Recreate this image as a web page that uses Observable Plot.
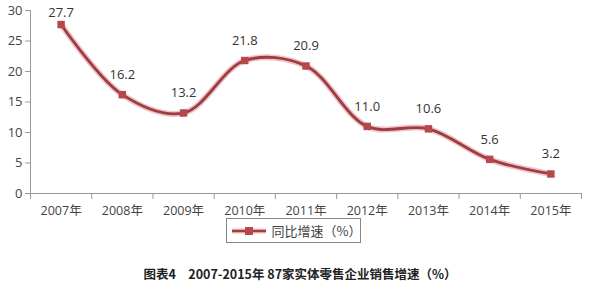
<!DOCTYPE html>
<html><head><meta charset="utf-8">
<script src="https://cdn.jsdelivr.net/npm/d3@7"></script>
<script src="https://cdn.jsdelivr.net/npm/@observablehq/plot@0.6"></script>
<style>
body{margin:0;background:#fff;font-family:"Noto Sans CJK SC","Noto Sans",sans-serif;}
#wrap{position:relative;width:600px;height:292px;overflow:hidden;}
#legend{position:absolute;left:226px;top:218px;width:135px;height:25px;border:1px solid #888;box-sizing:border-box;display:flex;align-items:center;font-size:13px;color:#444;}
#caption{position:absolute;left:0;top:264px;width:600px;text-align:center;font-size:12.5px;font-weight:bold;color:#222;}
</style></head><body>
<div id="wrap"><div id="chart"></div>
<div id="legend"><svg width="38" height="12" style="margin-left:3px;margin-right:4px"><line x1="2" y1="6" x2="36" y2="6" stroke="#f3c7c9" stroke-width="5"/><line x1="2" y1="6" x2="36" y2="6" stroke="#a33c43" stroke-width="2.5"/><rect x="15" y="2" width="8" height="8" fill="#b5474d"/></svg><span>同比增速（%）</span></div>
<div id="caption">图表4　2007-2015年 87家实体零售企业销售增速（%）</div>
</div>
<script>
const years = [2007, 2008, 2009, 2010, 2011, 2012, 2013, 2014, 2015];
const growth = [27.7, 16.2, 13.2, 21.8, 20.9, 11.0, 10.6, 5.6, 3.2];
const yTicks = [0, 5, 10, 15, 20, 25, 30];
const data = years.map((y, i) => ({year: y, value: growth[i]}));
const bounds = years.map(y => y - 0.5).concat([years[years.length - 1] + 0.5]);

const chart = Plot.plot({
  width: 600, height: 250,
  marginTop: 10, marginBottom: 57, marginLeft: 30, marginRight: 19,
  style: {fontFamily: "Open Sans, Noto Sans CJK SC, sans-serif", fontSize: "12px", color: "#444", background: "#fff"},
  x: {domain: [bounds[0], bounds[bounds.length - 1]], axis: null, label: null},
  y: {domain: [0, 30], axis: null, label: null},
  marks: [
    Plot.ruleY([0], {stroke: "#999"}),
    Plot.ruleX([bounds[0]], {stroke: "#999"}),
    Plot.axisY({ticks: yTicks, tickSize: 5, tickPadding: 3, stroke: "#999", fill: "#444", fontSize: 13, anchor: "left", label: null}),
    Plot.axisX({ticks: bounds, tickSize: 6, tickFormat: () => "", stroke: "#999", anchor: "bottom", label: null}),
    Plot.axisX({ticks: years, tickSize: 0, tickPadding: 13, tickFormat: d => d + "年", fill: "#444", fontSize: 12.5, anchor: "bottom", label: null}),
    Plot.line(data, {x: "year", y: "value", curve: "catmull-rom", stroke: "#f0c4c6", strokeWidth: 6}),
    Plot.line(data, {x: "year", y: "value", curve: "catmull-rom", stroke: "#9e3c43", strokeWidth: 2.8}),
    Plot.dot(data, {x: "year", y: "value", symbol: "square", r: 4.2, fill: "#b5474d"}),
    Plot.text(data.filter((d, i) => i > 0), {x: "year", y: "value", text: d => d.value.toFixed(1), dy: -20, fontSize: 13, fill: "#333"}),
    Plot.text(data.filter((d, i) => i === 0), {x: "year", y: "value", text: d => d.value.toFixed(1), dy: -12, fontSize: 13, fill: "#333"})
  ]
});
document.getElementById("chart").appendChild(chart);
</script>
</body></html>
